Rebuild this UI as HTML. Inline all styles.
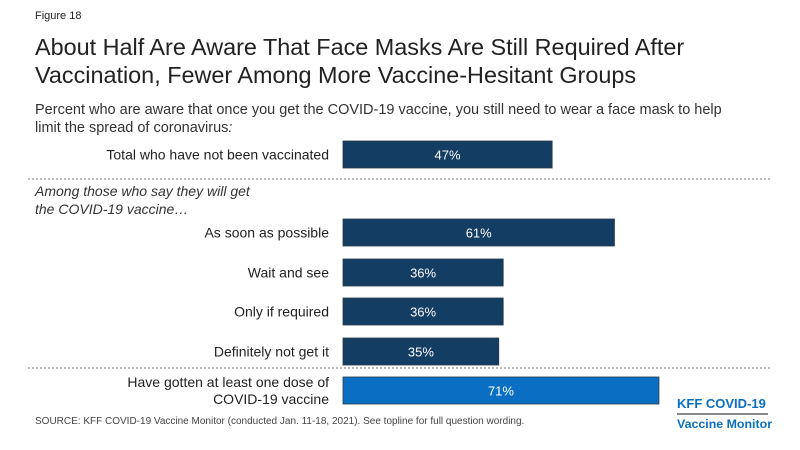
<!DOCTYPE html>
<html><head><meta charset="utf-8"><style>
body{margin:0;width:800px;height:450px;background:#fff;font-family:"Liberation Sans",sans-serif;position:relative;overflow:hidden}
.t{position:absolute;white-space:nowrap;color:#222}
</style></head><body>
<div class="t" style="left:35px;top:10px;font-size:11px">Figure 18</div>
<div class="t" style="left:35px;top:33px;font-size:23.4px;line-height:28px;color:#222">About Half Are Aware That Face Masks Are Still Required After<br>Vaccination, Fewer Among More Vaccine-Hesitant Groups</div>
<div class="t" style="left:35px;top:101px;font-size:14.5px;line-height:18px;color:#333">Percent who are aware that once you get the COVID-19 vaccine, you still need to wear a face mask to help<br>limit the spread of coronavirus<i>:</i></div>
<div class="t" style="left:35px;top:182px;font-size:14px;line-height:18px;font-style:italic;color:#333">Among those who say they will get<br>the COVID-19 vaccine…</div>
<svg id="c" width="800" height="450" style="position:absolute;left:0;top:0">
<line x1="28" y1="179" x2="770" y2="179" stroke="#777" stroke-dasharray="2,2"/>
<line x1="28" y1="368" x2="770" y2="368" stroke="#777" stroke-dasharray="2,2"/>
</svg>
<div class="t" style="left:35px;top:416px;font-size:10px;color:#444">SOURCE: KFF COVID-19 Vaccine Monitor (conducted Jan. 11-18, 2021). See topline for full question wording.</div>
<div class="t" style="left:677px;top:396px;font-size:13px;font-weight:bold;color:#0a6fc2;line-height:16px">KFF COVID-19</div>
<div style="position:absolute;left:677px;top:413px;width:91px;height:2px;background:#888"></div>
<div class="t" style="left:677px;top:416px;font-size:12.4px;font-weight:bold;color:#0a6fc2;line-height:16px">Vaccine Monitor</div>
<script>
const categories=["Total who have not been vaccinated","As soon as possible","Wait and see","Only if required","Definitely not get it","Have gotten at least one dose of\nCOVID-19 vaccine"];
const values=[47,61,36,36,35,71];
const rowTops=[141,219,259,298,338,377];
const svg=document.getElementById('c');
const NS="http://www.w3.org/2000/svg";
const x0=343, pxPer=4.45, bh=27;
function xs(v){return v*pxPer;}
values.forEach((v,i)=>{
  const y=rowTops[i];
  const r=document.createElementNS(NS,'rect');
  r.setAttribute('x',x0);r.setAttribute('y',y);r.setAttribute('width',xs(v));r.setAttribute('height',bh);
  r.setAttribute('fill',i===5?'#0a6fc2':'#133d63');
  r.setAttribute('stroke','#2a3a4a');r.setAttribute('stroke-width','0.8');
  
  
  svg.appendChild(r);
  const t=document.createElementNS(NS,'text');
  t.setAttribute('x',x0+xs(v)/2);t.setAttribute('y',y+bh/2+5);t.setAttribute('text-anchor','middle');
  t.setAttribute('fill','#fff');t.setAttribute('font-size','13');t.setAttribute('font-family','Liberation Sans, sans-serif');
  t.textContent=v+'%';
  
  
  svg.appendChild(t);
  const lines=categories[i].split('\n');
  lines.forEach((ln,j)=>{
    const l=document.createElementNS(NS,'text');
    l.setAttribute('x',329);
    l.setAttribute('y',y+bh/2+5+(j-(lines.length-1)/2)*17);
    l.setAttribute('text-anchor','end');l.setAttribute('fill','#222');l.setAttribute('font-size','14');
    l.setAttribute('font-family','Liberation Sans, sans-serif');
    l.textContent=ln;
    
    
    svg.appendChild(l);
  });
});
</script>
</body></html>
